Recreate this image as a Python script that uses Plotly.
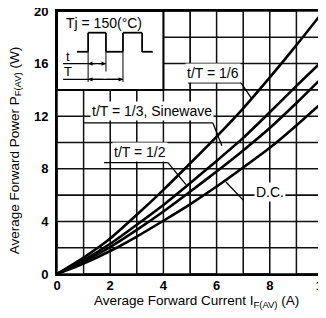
import plotly.graph_objects as go

# ---- data ----
current = [0, 1, 2, 3, 4, 5, 6, 7, 8, 9, 10]
p_1_6 = [0, 1.25, 2.7, 4.5, 6.4, 8.4, 10.45, 12.6, 14.95, 17.4, 19.95]
p_1_3 = [0, 1.05, 2.3, 3.75, 5.25, 6.9, 8.6, 10.35, 12.3, 14.3, 16.25]
p_1_2 = [0, 0.95, 2.05, 3.35, 4.75, 6.25, 7.8, 9.4, 11.1, 13.0, 15.0]
p_dc = [0, 0.8, 1.75, 2.85, 4.05, 5.3, 6.65, 8.1, 9.6, 11.3, 13.1]

x_tickvals = list(range(0, 11))
x_ticktext = ["0", "", "2", "", "4", "", "6", "", "8", "", "10"]
y_tickvals = list(range(0, 21, 2))
y_ticktext = ["0", "", "4", "", "8", "", "12", "", "16", "", "20"]

FONT = "Liberation Sans, Arial, Helvetica, sans-serif"

xmin, xmax = x_tickvals[0], x_tickvals[-1]
ymin, ymax = y_tickvals[0], y_tickvals[-1]

fig = go.Figure()

# grid drawn as continuous serpentine line traces built from the tick positions
vx, vy = [], []
for i, xv in enumerate(x_tickvals):
    ends = [ymin, ymax] if i % 2 == 0 else [ymax, ymin]
    vx += [xv, xv]
    vy += ends
hx, hy = [], []
for i, yv in enumerate(y_tickvals):
    ends = [xmin, xmax] if i % 2 == 0 else [xmax, xmin]
    hx += ends
    hy += [yv, yv]
for gx, gy in ((vx, vy), (hx, hy)):
    fig.add_trace(go.Scatter(x=gx, y=gy, mode="lines", line=dict(color="#111111", width=1.5),
                             showlegend=False, hoverinfo="skip"))

for ys in (p_1_6, p_1_3, p_1_2, p_dc):
    fig.add_trace(go.Scatter(x=current, y=ys, mode="lines",
                             line=dict(color="black", width=2.6, shape="spline", smoothing=0.6),
                             showlegend=False, hoverinfo="skip"))

shapes = []
# inset box (hides the grid behind it)
shapes.append(dict(type="rect", xref="x", yref="y", x0=0, x1=4, y0=14, y1=20,
                   fillcolor="white", line=dict(color="black", width=2), layer="above"))
# waveform in inset
wx = [0.75, 1.17, 1.17, 1.84, 1.84, 2.48, 2.48, 3.2, 3.2, 3.6]
wy = [16.9, 16.9, 18.35, 18.35, 16.9, 16.9, 18.35, 18.35, 16.9, 16.9]
for i in range(len(wx) - 1):
    shapes.append(dict(type="line", xref="x", yref="y", x0=wx[i], y0=wy[i], x1=wx[i + 1], y1=wy[i + 1],
                       line=dict(color="black", width=1.8), layer="above"))
# dimension guide lines
for gxx, gyy in ((1.17, 14.6), (1.84, 15.4), (2.48, 14.6)):
    shapes.append(dict(type="line", xref="x", yref="y", x0=gxx, y0=16.9, x1=gxx, y1=gyy,
                       line=dict(color="black", width=1), layer="above"))
shapes.append(dict(type="line", xref="x", yref="y", x0=0.23, y0=16.0, x1=1.84, y1=16.0,
                   line=dict(color="black", width=1.2), layer="above"))
shapes.append(dict(type="line", xref="x", yref="y", x0=0.23, y0=14.8, x1=2.48, y1=14.8,
                   line=dict(color="black", width=1.2), layer="above"))

# label underlines and leaders
leaders = [
    [(4.92, 14.54), (6.92, 14.54), (7.3, 13.4)],      # 1/6
    [(1.0, 11.49), (5.86, 11.49), (6.2, 9.75)],       # 1/3 sinewave
    [(1.77, 8.47), (4.17, 8.47), (4.85, 6.8)],        # 1/2
    [(7.0, 5.62), (6.35, 7.0)],                       # D.C.
]
for pts in leaders:
    for a, b in zip(pts[:-1], pts[1:]):
        shapes.append(dict(type="line", xref="x", yref="y", x0=a[0], y0=a[1], x1=b[0], y1=b[1],
                           line=dict(color="black", width=1.3), layer="above"))

ann = []
lab_font = dict(family=FONT, size=14, color="black")
for txt, x, y in (("t/T = 1/6", 5.86, 15.3),
                  ("t/T = 1/3, Sinewave", 3.57, 12.4),
                  ("t/T = 1/2", 3.12, 9.27),
                  ("D.C.", 8.0, 6.2)):
    ann.append(dict(text=txt, x=x, y=y, xref="x", yref="y", showarrow=False,
                    font=lab_font, bgcolor="white", borderpad=1))
ann.append(dict(text="Tj = 150(°C)", x=1.77, y=19.1, xref="x", yref="y", showarrow=False,
                font=dict(family=FONT, size=14, color="black")))
ann.append(dict(text="t", x=0.4, y=16.55, xref="x", yref="y", showarrow=False,
                font=dict(family=FONT, size=13, color="black")))
ann.append(dict(text="T", x=0.42, y=15.4, xref="x", yref="y", showarrow=False,
                font=dict(family=FONT, size=13, color="black")))
# arrow heads for dimensions
for (x0, x1, y) in ((1.5, 1.17, 16.0), (1.5, 1.84, 16.0), (1.8, 1.17, 14.8), (1.8, 2.48, 14.8)):
    ann.append(dict(x=x1, y=y, ax=x0, ay=y, xref="x", yref="y", axref="x", ayref="y",
                    text="", showarrow=True, arrowhead=2, arrowsize=0.8, arrowwidth=1.1,
                    arrowcolor="black", standoff=0))
# axis titles
ann.append(dict(text="Average Forward Current I<sub>F(AV)</sub> (A)", x=0.523, y=-0.105,
                xref="paper", yref="paper", showarrow=False, xanchor="center", yanchor="middle",
                font=dict(family=FONT, size=13.5, color="black")))
ann.append(dict(text="Average Forward Power P<sub>F(AV)</sub> (W)", x=-0.158, y=0.47,
                xref="paper", yref="paper", showarrow=False, xanchor="center", yanchor="middle",
                textangle=-90, font=dict(family=FONT, size=13.5, color="black")))

# page body has an 8px margin, so the figure is offset by 8px right/down
fig.update_layout(
    width=326, height=318,
    margin=dict(l=49, r=11, t=3, b=52, autoexpand=False),
    plot_bgcolor="white", paper_bgcolor="white",
    shapes=shapes, annotations=ann,
    font=dict(family=FONT, color="black"),
)
fig.update_xaxes(range=[xmin, xmax], tickmode="array", tickvals=x_tickvals,
                 ticktext=["<b>%s</b>" % t if t else "" for t in x_ticktext],
                 showgrid=True, gridcolor="black", gridwidth=1.3,
                 showline=True, linecolor="black", linewidth=2, mirror=True,
                 ticks="", ticklabelstandoff=-2, zeroline=False, automargin=False,
                 ticklabeloverflow="allow",
                 tickfont=dict(family=FONT, size=13, color="black"))
fig.update_yaxes(range=[ymin, ymax], tickmode="array", tickvals=y_tickvals,
                 ticktext=["<b>%s</b>" % t if t else "" for t in y_ticktext],
                 showgrid=True, gridcolor="black", gridwidth=1.3,
                 showline=True, linecolor="black", linewidth=2, mirror=True,
                 ticks="outside", ticklen=4, tickcolor="rgba(0,0,0,0)", zeroline=False,
                 automargin=False, ticklabeloverflow="allow",
                 tickfont=dict(family=FONT, size=13, color="black"))

fig.write_html("out.html")
